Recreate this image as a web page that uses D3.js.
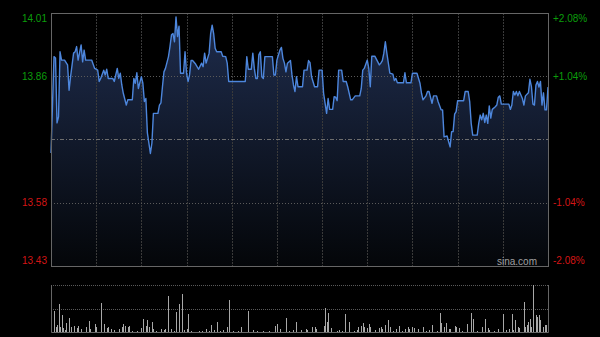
<!DOCTYPE html>
<html>
<head>
<meta charset="utf-8">
<script src="https://cdn.jsdelivr.net/npm/d3@7"></script>
<style>
  body { margin: 0; background: #000; }
  svg { display: block; }
</style>
</head>
<body>
<div id="chart"></div>
<script>
////////// Data /////////////
const prevClose = 13.72;
const priceDomain = [13.43, 14.01];
const totalMinutes = 330;

const leftLabels = ["14.01", "13.86", "13.58", "13.43"];
const rightLabels = ["+2.08%", "+1.04%", "-1.04%", "-2.08%"];
const labelLevels = [14.01, 13.865, 13.575, 13.43];

const minutes = [
  0, 2, 3, 4, 5, 6, 7, 9, 11, 12,
  13, 15, 16, 17, 18, 20, 21, 22, 23, 27,
  29, 31, 32, 33, 35, 36, 37, 38, 41, 42,
  44, 45, 46, 47, 48, 50, 51, 54, 55, 56,
  57, 58, 60, 61, 62, 63, 64, 66, 67, 68,
  71, 72, 73, 74, 75, 76, 78, 79, 80, 81,
  82, 83, 84, 85, 86, 88, 89, 90, 91, 92,
  93, 94, 96, 98, 100, 101, 102, 103, 105, 106,
  107, 108, 109, 110, 113, 114, 116, 117, 118, 129,
  130, 131, 133, 134, 135, 136, 137, 138, 139, 140,
  141, 142, 147, 148, 149, 150, 152, 153, 154, 155,
  156, 157, 159, 160, 161, 162, 163, 164, 167, 168,
  170, 171, 172, 173, 175, 177, 178, 180, 181, 183,
  184, 185, 187, 188, 189, 190, 191, 193, 194, 196,
  197, 199, 200, 202, 205, 206, 207, 208, 210, 211,
  212, 213, 215, 218, 219, 220, 221, 222, 223, 225,
  227, 228, 229, 230, 234, 235, 236, 239, 240, 243,
  245, 246, 247, 249, 250, 251, 253, 254, 256, 257,
  259, 260, 261, 263, 264, 265, 266, 267, 268, 269,
  270, 274, 275, 277, 278, 279, 280, 283, 284, 285,
  286, 287, 288, 289, 290, 291, 292, 293, 295, 296,
  297, 298, 299, 304, 305, 306, 307, 308, 309, 310,
  311, 313, 314, 315, 317, 318, 319, 320, 321, 322,
  323, 324, 325, 326, 327, 328, 329, 330
];

const prices = [
  13.689, 13.910, 13.907, 13.758, 13.772, 13.921, 13.902, 13.902, 13.891, 13.833,
  13.864, 13.918, 13.921, 13.933, 13.902, 13.937, 13.898, 13.925, 13.902, 13.902,
  13.883, 13.879, 13.853, 13.860, 13.879, 13.868, 13.881, 13.860, 13.860, 13.853,
  13.883, 13.860, 13.872, 13.845, 13.826, 13.799, 13.811, 13.811, 13.860, 13.849,
  13.873, 13.837, 13.864, 13.849, 13.807, 13.814, 13.735, 13.688, 13.712, 13.780,
  13.780, 13.799, 13.804, 13.841, 13.875, 13.883, 13.910, 13.933, 13.960, 13.963,
  13.944, 14.001, 13.956, 13.980, 13.872, 13.872, 13.921, 13.872, 13.853, 13.868,
  13.901, 13.901, 13.893, 13.881, 13.895, 13.887, 13.918, 13.895, 13.918, 13.963,
  13.982, 13.963, 13.929, 13.921, 13.921, 13.911, 13.910, 13.895, 13.853, 13.853,
  13.910, 13.881, 13.881, 13.918, 13.883, 13.860, 13.860, 13.914, 13.921, 13.864,
  13.860, 13.910, 13.910, 13.868, 13.868, 13.902, 13.925, 13.931, 13.906, 13.895,
  13.875, 13.895, 13.901, 13.868, 13.845, 13.830, 13.864, 13.841, 13.841, 13.879,
  13.879, 13.901, 13.896, 13.864, 13.841, 13.841, 13.879, 13.879, 13.826, 13.780,
  13.814, 13.789, 13.789, 13.818, 13.817, 13.809, 13.879, 13.879, 13.853, 13.853,
  13.841, 13.811, 13.811, 13.820, 13.820, 13.837, 13.879, 13.883, 13.902, 13.883,
  13.841, 13.911, 13.911, 13.891, 13.895, 13.901, 13.918, 13.944, 13.918, 13.872,
  13.870, 13.855, 13.860, 13.850, 13.850, 13.873, 13.850, 13.850, 13.872, 13.872,
  13.849, 13.826, 13.811, 13.820, 13.830, 13.830, 13.803, 13.820, 13.820, 13.807,
  13.788, 13.788, 13.726, 13.728, 13.715, 13.703, 13.738, 13.738, 13.778, 13.784,
  13.809, 13.809, 13.830, 13.830, 13.807, 13.757, 13.730, 13.730, 13.757, 13.776,
  13.765, 13.780, 13.759, 13.776, 13.757, 13.797, 13.769, 13.789, 13.795, 13.799,
  13.817, 13.820, 13.801, 13.801, 13.789, 13.799, 13.830, 13.822, 13.830, 13.820,
  13.830, 13.814, 13.799, 13.820, 13.827, 13.858, 13.841, 13.801, 13.799, 13.845,
  13.853, 13.840, 13.853, 13.799, 13.827, 13.788, 13.788, 13.840
];

const volMinutes = [
  0, 2, 3, 4, 5, 6, 7, 8, 9, 10,
  12, 13, 15, 17, 18, 20, 23, 25, 26, 29,
  30, 33, 35, 37, 38, 40, 42, 45, 47, 48,
  49, 51, 52, 54, 57, 60, 61, 63, 64, 65,
  67, 68, 70, 73, 75, 76, 78, 80, 82, 83,
  85, 87, 88, 90, 91, 93, 98, 100, 103, 105,
  106, 108, 110, 112, 114, 117, 118, 121, 124, 126,
  131, 134, 137, 141, 145, 149, 150, 152, 156, 158,
  161, 163, 166, 169, 170, 173, 175, 176, 181, 182,
  183, 184, 186, 190, 191, 193, 195, 198, 201, 203,
  204, 206, 207, 208, 210, 211, 212, 215, 218, 219,
  220, 222, 224, 225, 227, 229, 231, 233, 235, 237,
  238, 240, 241, 244, 247, 249, 251, 253, 256, 258,
  259, 261, 262, 264, 265, 268, 269, 271, 273, 276,
  279, 280, 283, 286, 288, 290, 291, 294, 297, 300,
  302, 304, 306, 307, 308, 310, 311, 314, 315, 316,
  317, 318, 319, 320, 322, 323, 324, 325, 327, 328,
  329
];

const volumes = [
  12, 21, 5, 7, 28, 5, 17, 4, 2, 9,
  14, 5, 6, 4, 6, 3, 5, 11, 3, 8,
  5, 29, 8, 4, 5, 3, 2, 3, 5, 8,
  6, 5, 6, 1, 1, 4, 13, 6, 12, 5,
  10, 3, 1, 3, 2, 3, 36, 3, 1, 20,
  28, 38, 2, 3, 18, 1, 1, 1, 3, 1,
  7, 2, 10, 1, 2, 5, 32, 1, 1, 5,
  21, 2, 1, 1, 1, 6, 8, 3, 14, 1,
  2, 10, 2, 3, 2, 5, 5, 3, 6, 24,
  10, 19, 4, 1, 2, 1, 18, 10, 1, 2,
  5, 6, 9, 5, 4, 8, 5, 2, 4, 5,
  3, 7, 12, 5, 1, 3, 6, 1, 3, 5,
  3, 5, 4, 3, 5, 1, 2, 7, 1, 19,
  9, 5, 9, 3, 3, 6, 5, 4, 1, 8,
  19, 13, 1, 5, 13, 4, 2, 1, 3, 18,
  2, 3, 18, 2, 12, 5, 4, 30, 5, 7,
  10, 13, 5, 47, 17, 15, 17, 12, 5, 7,
  7
];

const plot = { left: 51, right: 548, top: 13, bottom: 266 };
const volPlot = { top: 285, bottom: 332 };

const svg = d3.select("#chart")
  .append("svg")
  .attr("width", 600)
  .attr("height", 337);

svg.append("rect")
  .attr("width", 600)
  .attr("height", 337)
  .attr("fill", "#000");

const x = d3.scaleLinear().domain([0, totalMinutes]).range([plot.left, plot.right]);
const y = d3.scaleLinear().domain(priceDomain).range([plot.bottom, plot.top]);
const yVol = d3.scaleLinear().domain([0, d3.max(volumes)]).range([volPlot.bottom, volPlot.top]);

const points = minutes.map((m, i) => ({ m: m, p: prices[i] }));

// gradient under the line
const defs = svg.append("defs");
const grad = defs.append("linearGradient")
  .attr("id", "areaFill")
  .attr("gradientUnits", "userSpaceOnUse")
  .attr("x1", 0).attr("y1", plot.top)
  .attr("x2", 0).attr("y2", plot.bottom);
grad.append("stop").attr("offset", "0%").attr("stop-color", "#1f2d4e");
grad.append("stop").attr("offset", "100%").attr("stop-color", "#040609");

const area = d3.area()
  .x(d => x(d.m))
  .y0(plot.bottom)
  .y1(d => y(d.p));

svg.append("path")
  .datum(points)
  .attr("d", area)
  .attr("fill", "url(#areaFill)");

/////////// grid
const vTicks = d3.range(30, totalMinutes, 30);

svg.append("g")
  .selectAll("line")
  .data(vTicks)
  .enter().append("line")
  .attr("x1", d => Math.round(x(d)) + 0.5)
  .attr("x2", d => Math.round(x(d)) + 0.5)
  .attr("y1", plot.top)
  .attr("y2", plot.bottom)
  .attr("stroke", "#3a3a3a")
  .attr("stroke-dasharray", "2,1");

svg.append("g")
  .selectAll("line")
  .data([labelLevels[1], labelLevels[2]])
  .enter().append("line")
  .attr("x1", plot.left)
  .attr("x2", plot.right)
  .attr("y1", d => Math.round(y(d)) + 0.5)
  .attr("y2", d => Math.round(y(d)) + 0.5)
  .attr("stroke", "#5a5a5a")
  .attr("stroke-dasharray", "1,2");

// previous close
svg.append("line")
  .attr("x1", plot.left)
  .attr("x2", plot.right)
  .attr("y1", Math.round(y(prevClose)) + 0.5)
  .attr("y2", Math.round(y(prevClose)) + 0.5)
  .attr("stroke", "#6e6e6e")
  .attr("stroke-dasharray", "4,2,1,2");

/////////// price line
const line = d3.line()
  .x(d => x(d.m))
  .y(d => y(d.p));

svg.append("path")
  .datum(points)
  .attr("d", line)
  .attr("fill", "none")
  .attr("stroke", "#4d86dc")
  .attr("stroke-width", 1.4)
  .attr("stroke-linejoin", "round");

// frame
svg.append("rect")
  .attr("x", plot.left + 0.5)
  .attr("y", plot.top + 0.5)
  .attr("width", plot.right - plot.left)
  .attr("height", plot.bottom - plot.top)
  .attr("fill", "none")
  .attr("stroke", "#666");

/////////// axis labels
function labelColor(i) {
  return i < 2 ? "#0b9e0b" : "#d41515";
}
function labelY(i) {
  const yy = y(labelLevels[i]);
  if (i === 0) return yy + 5;
  if (i === labelLevels.length - 1) return yy - 6;
  return yy;
}

svg.append("g")
  .selectAll("text")
  .data(leftLabels)
  .enter().append("text")
  .text(d => d)
  .attr("x", 47)
  .attr("y", (d, i) => labelY(i))
  .attr("dy", "0.35em")
  .attr("text-anchor", "end")
  .attr("font-family", "Liberation Sans, Arial, sans-serif")
  .attr("font-size", "10px")
  .attr("fill", (d, i) => labelColor(i));

svg.append("g")
  .selectAll("text")
  .data(rightLabels)
  .enter().append("text")
  .text(d => d)
  .attr("x", 553)
  .attr("y", (d, i) => labelY(i))
  .attr("dy", "0.35em")
  .attr("text-anchor", "start")
  .attr("font-family", "Liberation Sans, Arial, sans-serif")
  .attr("font-size", "10px")
  .attr("fill", (d, i) => labelColor(i));

svg.append("text")
  .text("sina.com")
  .attr("x", 537)
  .attr("y", 265)
  .attr("text-anchor", "end")
  .attr("font-family", "Liberation Sans, Arial, sans-serif")
  .attr("font-size", "10px")
  .attr("fill", "#a0a0a0");

/////////// volume panel
svg.append("g")
  .selectAll("line")
  .data([volPlot.top, (volPlot.top + volPlot.bottom) / 2])
  .enter().append("line")
  .attr("x1", plot.left)
  .attr("x2", plot.right)
  .attr("y1", d => Math.round(d) + 0.5)
  .attr("y2", d => Math.round(d) + 0.5)
  .attr("stroke", "#5a5a5a")
  .attr("stroke-dasharray", "1,1");

svg.append("g")
  .selectAll("rect")
  .data(volumes)
  .enter().append("rect")
  .attr("x", (d, i) => Math.round(x(volMinutes[i])))
  .attr("y", d => yVol(d))
  .attr("width", 1)
  .attr("height", d => volPlot.bottom - yVol(d))
  .attr("fill", "#a8a8a8");

svg.append("path")
  .attr("d", `M${plot.left + 0.5},${volPlot.top}V${volPlot.bottom + 0.5}H${plot.right + 0.5}V${volPlot.top}`)
  .attr("fill", "none")
  .attr("stroke", "#666");
</script>
</body>
</html>
